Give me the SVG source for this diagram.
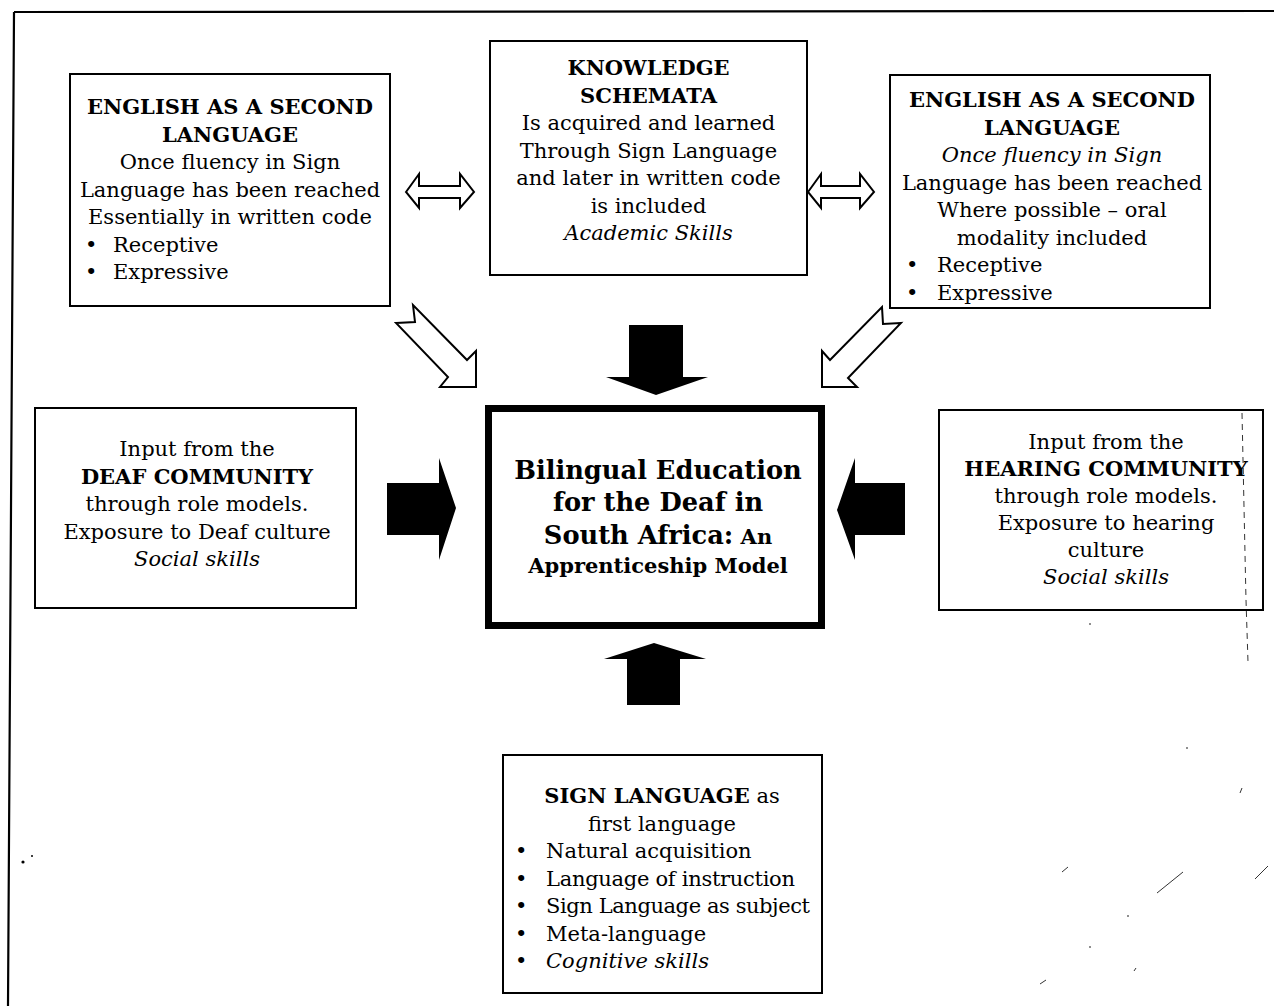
<svg xmlns="http://www.w3.org/2000/svg" width="1274" height="1006" viewBox="0 0 1274 1006">
  <style>
    .box { fill: #fff; stroke: #000; stroke-width: 2; }
    .core { fill: #fff; stroke: #000; stroke-width: 7; }
    .hollow { fill: #fff; stroke: #000; stroke-width: 2; stroke-linejoin: miter; }
    .solid { fill: #000; stroke: none; }
    .frame { fill: none; stroke: #000; stroke-width: 2.2; }
    .speck { fill: none; stroke: #333; stroke-width: 1; }
    text { font-family: "DejaVu Serif", "Liberation Serif", serif; font-size: 21px; fill: #000; }
    .c { text-anchor: middle; }
    .b { font-weight: bold; }
    .i { font-style: italic; }
    .title { font-size: 25.7px; font-weight: bold; }
    .sub { font-size: 21px; font-weight: bold; }
  </style>

  <!-- page frame (top and left edges only) -->
  <path class="frame" d="M14,12 L1274,11 M14,12 L8,1006"/>

  <!-- connectors -->
  <g id="connectors">
    <!-- two-way hollow arrows between the top boxes -->
    <path class="hollow" d="M406,192 L419,174 V186 H460 V174 L474,192 L460,208 V198 H419 V208 Z"/>
    <path class="hollow" d="M808,192 L821,174 V186 H860 V174 L874,192 L860,208 V198 H821 V208 Z"/>
    <!-- diagonal hollow arrows towards the centre -->
    <path class="hollow" d="M396,323 L415,322 L413,305 L467,360 L476,351 L476,387 L440,387 L448,377 Z"/>
    <path class="hollow" d="M901,323 L883,324 L882,307 L830,360 L822,351 L822,387 L857,387 L848,378 Z"/>
    <!-- solid block arrows into the centre -->
    <path class="solid" d="M629,325 H683 V377 H708 L656,395 L606,377 H629 Z"/>
    <path class="solid" d="M387,483 H439 V458 L456,508 L439,560 V535 H387 Z"/>
    <path class="solid" d="M905,483 H855 V458 L837,510 L855,560 V535 H905 Z"/>
    <path class="solid" d="M627,705 V659 H604 L654,643 L706,659 H680 V705 Z"/>
  </g>

  <!-- English as a second language (left) -->
  <g id="esl-left">
    <rect class="box" x="70" y="74" width="320" height="232"/>
    <text class="c b" x="230" y="114">ENGLISH AS A SECOND</text>
    <text class="c b" x="230" y="141.5">LANGUAGE</text>
    <text class="c" x="230" y="169">Once fluency in Sign</text>
    <text class="c" x="230" y="196.5">Language has been reached</text>
    <text class="c" x="230" y="224">Essentially in written code</text>
    <text x="85" y="251.5">•</text><text x="113" y="251.5">Receptive</text>
    <text x="85" y="279">•</text><text x="113" y="279">Expressive</text>
  </g>

  <!-- Knowledge schemata -->
  <g id="knowledge">
    <rect class="box" x="490" y="41" width="317" height="234"/>
    <text class="c b" x="648.5" y="75">KNOWLEDGE</text>
    <text class="c b" x="648.5" y="102.5">SCHEMATA</text>
    <text class="c" x="648.5" y="130">Is acquired and learned</text>
    <text class="c" x="648.5" y="157.5">Through Sign Language</text>
    <text class="c" x="648.5" y="185">and later in written code</text>
    <text class="c" x="648.5" y="212.5">is included</text>
    <text class="c i" x="648.5" y="240">Academic Skills</text>
  </g>

  <!-- English as a second language (right) -->
  <g id="esl-right">
    <rect class="box" x="890" y="75" width="320" height="233"/>
    <text class="c b" x="1052" y="107">ENGLISH AS A SECOND</text>
    <text class="c b" x="1052" y="134.5">LANGUAGE</text>
    <text class="c i" x="1052" y="162">Once fluency in Sign</text>
    <text class="c" x="1052" y="189.5">Language has been reached</text>
    <text class="c" x="1052" y="217">Where possible – oral</text>
    <text class="c" x="1052" y="244.5">modality included</text>
    <text x="906" y="272">•</text><text x="937" y="272">Receptive</text>
    <text x="906" y="299.5">•</text><text x="937" y="299.5">Expressive</text>
  </g>

  <!-- Deaf community -->
  <g id="deaf-community">
    <rect class="box" x="35" y="408" width="321" height="200"/>
    <text class="c" x="197" y="456">Input from the</text>
    <text class="c b" x="197" y="483.5">DEAF COMMUNITY</text>
    <text class="c" x="197" y="511">through role models.</text>
    <text class="c" x="197" y="538.5">Exposure to Deaf culture</text>
    <text class="c i" x="197" y="566">Social skills</text>
  </g>

  <!-- Central model -->
  <g id="centre">
    <rect class="core" x="488.5" y="408.5" width="333" height="217"/>
    <text class="c title" x="658" y="479">Bilingual Education</text>
    <text class="c title" x="658" y="511">for the Deaf in</text>
    <text class="c" x="658" y="544"><tspan class="title">South Africa:</tspan><tspan class="sub"> An</tspan></text>
    <text class="c sub" x="658" y="573">Apprenticeship Model</text>
  </g>

  <!-- Hearing community -->
  <g id="hearing-community">
    <rect class="box" x="939" y="410" width="324" height="200"/>
    <text class="c" x="1106" y="449">Input from the</text>
    <text class="c b" x="1106" y="476">HEARING COMMUNITY</text>
    <text class="c" x="1106" y="503">through role models.</text>
    <text class="c" x="1106" y="530">Exposure to hearing</text>
    <text class="c" x="1106" y="557">culture</text>
    <text class="c i" x="1106" y="584">Social skills</text>
  </g>

  <!-- Sign language -->
  <g id="sign-language">
    <rect class="box" x="503" y="755" width="319" height="238"/>
    <text class="c" x="662" y="803"><tspan class="b">SIGN LANGUAGE</tspan> as</text>
    <text class="c" x="662" y="830.5">first language</text>
    <text x="515" y="858">•</text><text x="546" y="858">Natural acquisition</text>
    <text x="515" y="885.5">•</text><text x="546" y="885.5" textLength="249">Language of instruction</text>
    <text x="515" y="913">•</text><text x="546" y="913" textLength="264">Sign Language as subject</text>
    <text x="515" y="940.5">•</text><text x="546" y="940.5">Meta-language</text>
    <text x="515" y="968">•</text><text class="i" x="546" y="968">Cognitive skills</text>
  </g>

  <!-- stray print marks -->
  <g id="marks">
    <path class="speck" stroke-dasharray="6 5" d="M1242,413 L1246,600 L1248,662"/>
    <path class="speck" d="M1157,893 L1183,872 M1062,872 L1068,867 M1255,879 L1268,866 M1040,984 L1046,980 M1240,793 L1242,788 M1134,971 L1136,968"/>
    <circle cx="23" cy="862" r="1.6"/><circle cx="32" cy="856" r="1"/>
    <circle cx="1090" cy="624" r="0.8"/><circle cx="1187" cy="748" r="0.8"/><circle cx="1128" cy="916" r="0.8"/><circle cx="1090" cy="947" r="0.8"/>
  </g>
</svg>
